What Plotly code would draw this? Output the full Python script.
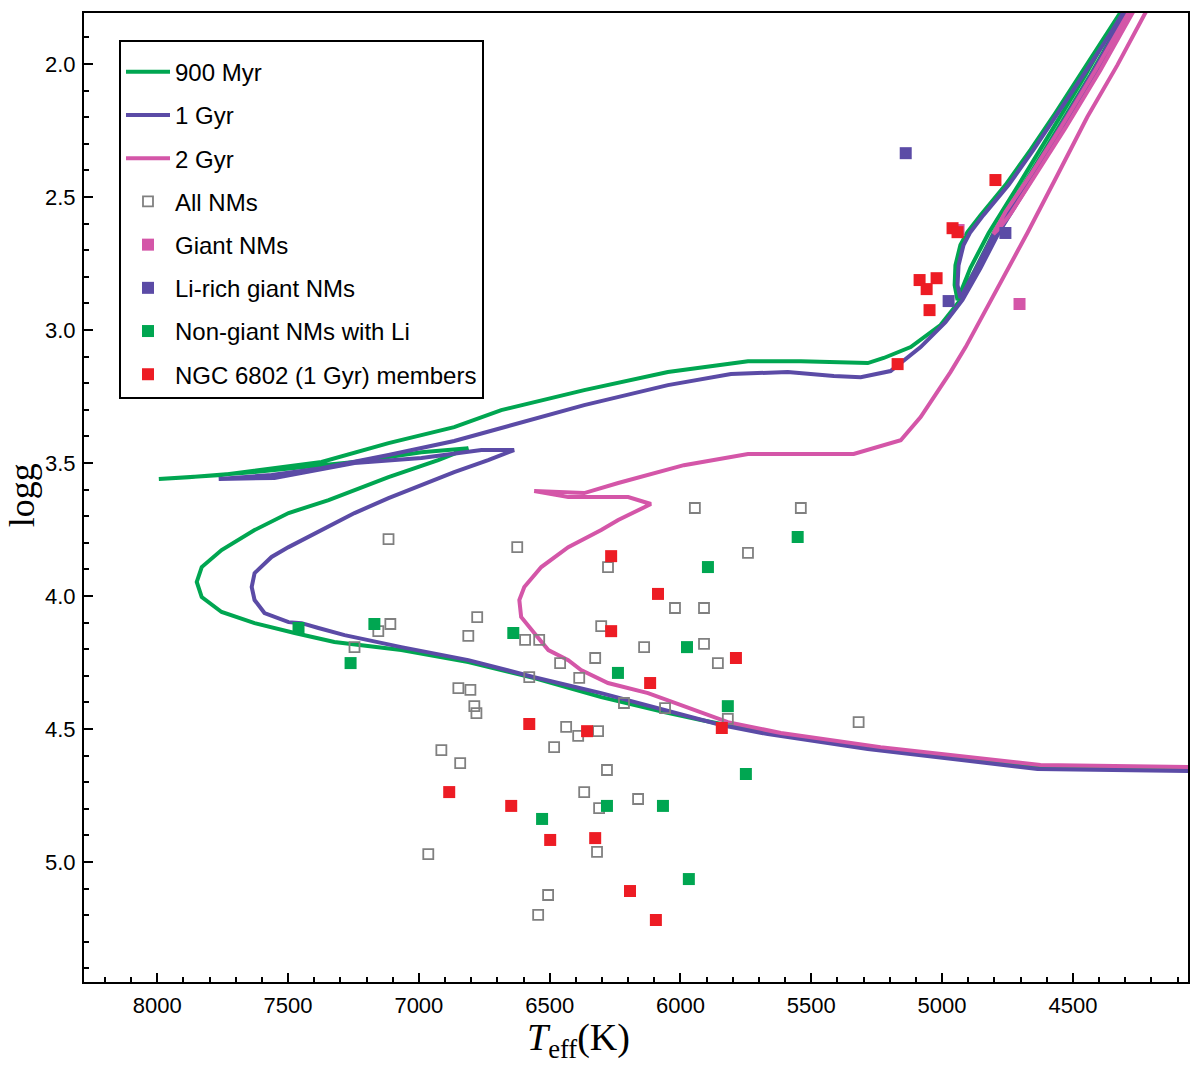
import plotly.graph_objects as go

# Isochrones (Teff in K, log g in dex)
iso_900myr_teff = [4059, 4635, 5284, 5666, 5922, 6063, 6303, 6559, 6811, 7067,
                   7323, 7448, 7475, 7628, 7754, 7830, 7849, 7830, 7754, 7628,
                   7498, 7345, 7246, 7116, 6926, 6811, 6990, 7246, 7372, 7628,
                   7880, 7994, 7754, 7372, 7116, 6865, 6685, 6368, 6048, 5742,
                   5540, 5284, 5223, 5120, 5006, 4937, 4872, 4803, 4689, 4559,
                   4433, 4319, 4262, 4204, 4281, 4338, 4452, 4578, 4708, 4822,
                   4892, 4941, 4952, 4949, 4930, 4903, 4853, 4758, 4662, 4567,
                   4472, 4376, 4307, 4262]
iso_900myr_logg = [4.654, 4.643, 4.568, 4.515, 4.466, 4.436, 4.380, 4.308, 4.248, 4.203,
                   4.173, 4.147, 4.139, 4.102, 4.060, 4.004, 3.947, 3.891, 3.827, 3.752,
                   3.688, 3.639, 3.602, 3.553, 3.489, 3.444, 3.459, 3.496, 3.508, 3.534,
                   3.553, 3.560, 3.545, 3.496, 3.425, 3.365, 3.301, 3.226, 3.158, 3.117,
                   3.117, 3.124, 3.105, 3.064, 2.981, 2.895, 2.767, 2.635, 2.455, 2.248,
                   2.041, 1.842, 1.748, 1.647, 1.748, 1.842, 2.041, 2.248, 2.455, 2.635,
                   2.767, 2.887, 2.831, 2.756, 2.680, 2.632, 2.568, 2.455, 2.323, 2.184,
                   2.041, 1.898, 1.789, 1.714]

iso_1gyr_teff = [4059, 4635, 5284, 5666, 5845, 6063, 6303, 6559, 6811, 7067,
                 7284, 7384, 7448, 7498, 7590, 7628, 7639, 7628, 7563, 7498,
                 7372, 7246, 7116, 6990, 6865, 6735, 6636, 6761, 6990, 7246,
                 7552, 7765, 7563, 7372, 7116, 6865, 6685, 6368, 6048, 5807,
                 5590, 5414, 5311, 5197, 5082, 4987, 4922, 4853, 4784, 4670,
                 4540, 4414, 4300, 4243, 4185, 4258, 4315, 4430, 4555, 4685,
                 4800, 4869, 4930, 4941, 4937, 4918, 4892, 4842, 4746, 4651,
                 4555, 4460, 4365, 4296, 4250]
iso_1gyr_logg = [4.658, 4.650, 4.575, 4.519, 4.485, 4.429, 4.365, 4.305, 4.241, 4.192,
                 4.147, 4.120, 4.102, 4.098, 4.064, 4.015, 3.966, 3.914, 3.853, 3.816,
                 3.752, 3.688, 3.632, 3.583, 3.534, 3.489, 3.451, 3.451, 3.481, 3.500,
                 3.556, 3.560, 3.545, 3.519, 3.470, 3.417, 3.368, 3.282, 3.207, 3.165,
                 3.158, 3.173, 3.177, 3.154, 3.064, 2.970, 2.887, 2.767, 2.635, 2.455,
                 2.248, 2.041, 1.842, 1.748, 1.647, 1.748, 1.842, 2.041, 2.248, 2.455,
                 2.635, 2.767, 2.880, 2.831, 2.756, 2.680, 2.632, 2.568, 2.455, 2.323,
                 2.184, 2.041, 1.898, 1.789, 1.714]

iso_2gyr_teff = [4059, 4624, 5235, 5616, 5819, 5971, 6124, 6277, 6380, 6429,
                 6505, 6559, 6609, 6616, 6597, 6532, 6429, 6303, 6238, 6113,
                 6200, 6429, 6559, 6368, 6238, 5987, 5742, 5338, 5158, 5082,
                 5025, 4968, 4910, 4853, 4796, 4739, 4674, 4559, 4445, 4330,
                 4231, 4166, 4243, 4288, 4414, 4548, 4662, 4758, 4792, 4804,
                 4781, 4739, 4643, 4529, 4395, 4269, 4223]
iso_2gyr_logg = [4.643, 4.635, 4.568, 4.515, 4.474, 4.421, 4.365, 4.327, 4.278, 4.241,
                 4.203, 4.139, 4.079, 4.015, 3.966, 3.891, 3.816, 3.752, 3.714, 3.654,
                 3.628, 3.628, 3.605, 3.613, 3.575, 3.508, 3.466, 3.466, 3.414, 3.327,
                 3.244, 3.158, 3.064, 2.962, 2.861, 2.756, 2.635, 2.417, 2.199, 2.004,
                 1.816, 1.703, 1.722, 1.808, 2.023, 2.241, 2.417, 2.556, 2.617, 2.639,
                 2.617, 2.564, 2.417, 2.241, 2.023, 1.808, 1.722]

# Stars
all_nm_teff = [7116, 6624, 5945, 5540, 5742, 6277, 6021, 5910, 6303, 6777,
               7109, 7155, 6811, 7246, 6594, 6540, 6139, 5910, 5857, 6460,
               6326, 6578, 6387, 6849, 6803, 6788, 6780, 6216, 6059, 5819,
               5319, 6437, 6391, 6315, 6914, 6842, 6483, 6281, 6368, 6311,
               6162, 6964, 6319, 6506, 6544]
all_nm_logg = [3.786, 3.816, 3.669, 3.669, 3.838, 3.891, 4.045, 4.045, 4.113, 4.079,
               4.105, 4.132, 4.150, 4.192, 4.165, 4.165, 4.192, 4.180, 4.252, 4.252,
               4.233, 4.305, 4.308, 4.346, 4.353, 4.414, 4.440, 4.402, 4.421, 4.462,
               4.474, 4.492, 4.526, 4.508, 4.579, 4.628, 4.568, 4.654, 4.737, 4.797,
               4.763, 4.970, 4.962, 5.124, 5.199]

giant_nm_teff = [4937, 4704]
giant_nm_logg = [2.624, 2.902]

li_giant_teff = [5139, 4975, 4758]
li_giant_logg = [2.335, 2.891, 2.635]

li_dwarf_teff = [7460, 7170, 7261, 6639, 5895, 5552, 5975, 6239, 5819, 6529,
                 6281, 6067, 5968, 5750]
li_dwarf_logg = [4.120, 4.105, 4.252, 4.139, 3.891, 3.778, 4.192, 4.289, 4.414, 4.838,
                 4.789, 4.789, 5.064, 4.669]

ngc6802_teff = [6265, 6086, 6265, 6116, 5788, 5842, 6578, 6357, 6884, 6647,
                6498, 6326, 6193, 6094, 5170, 4796, 4960, 4941, 5086, 5021,
                5059, 5048]
ngc6802_logg = [3.850, 3.992, 4.132, 4.327, 4.233, 4.496, 4.481, 4.508, 4.737, 4.789,
                4.917, 4.910, 5.109, 5.218, 3.128, 2.436, 2.617, 2.632, 2.812, 2.805,
                2.846, 2.925]

GREEN = "#00a651"
PURPLE = "#5b4ba6"
PINK = "#d456a8"
RED = "#ed1c24"
GRAY = "#808080"


def make_figure():
    fig = go.Figure()

    # isochrone lines
    lines = [
        ("900 Myr", iso_900myr_teff, iso_900myr_logg, GREEN),
        ("1 Gyr", iso_1gyr_teff, iso_1gyr_logg, PURPLE),
        ("2 Gyr", iso_2gyr_teff, iso_2gyr_logg, PINK),
    ]
    for name, x, y, color in lines:
        fig.add_trace(go.Scatter(x=x, y=y, mode="lines", name=name, legendgroup=name,
                                 line=dict(color=color, width=4)))

    # star samples
    points = [
        ("All NMs", all_nm_teff, all_nm_logg, "square-open", GRAY),
        ("Giant NMs", giant_nm_teff, giant_nm_logg, "square", PINK),
        ("Li-rich giant NMs", li_giant_teff, li_giant_logg, "square", PURPLE),
        ("Non-giant NMs with Li", li_dwarf_teff, li_dwarf_logg, "square", GREEN),
        ("NGC 6802 (1 Gyr) members", ngc6802_teff, ngc6802_logg, "square", RED),
    ]
    for name, x, y, symbol, color in points:
        is_open = symbol == "square-open"
        fig.add_trace(go.Scatter(x=x, y=y, mode="markers", name=name, legendgroup=name,
                                 marker=dict(symbol=symbol, size=10 if is_open else 12, color=color,
                                             line=dict(color=color, width=1.8 if is_open else 0))))

    axis_common = dict(
        showline=True, linecolor="black", linewidth=2, mirror=True,
        showgrid=False, zeroline=False, automargin=False,
        ticks="inside", ticklen=9, tickwidth=2, tickcolor="black",
        tickfont=dict(family="Liberation Sans", size=22, color="black"),
    )

    fig.update_xaxes(
        range=[8280, 4060], tick0=0, dtick=500,
        minor=dict(ticks="inside", ticklen=5, tickwidth=1.5, tickcolor="black", dtick=100, tick0=0),
        ticklabelstandoff=3,
        **axis_common,
    )
    fig.update_yaxes(
        range=[5.451, 1.808], tick0=0, dtick=0.5, tickformat=".1f",
        minor=dict(ticks="inside", ticklen=5, tickwidth=1.5, tickcolor="black", dtick=0.1, tick0=0),
        ticklabelstandoff=2,
        **axis_common,
    )

    # axis titles placed as annotations (the x title sits left of centre in the original)
    fig.add_annotation(text="<i>T</i><sub>eff</sub>(K)", xref="paper", yref="paper",
                       x=0.4475, y=0, yshift=-58, xanchor="center", yanchor="middle",
                       showarrow=False,
                       font=dict(family="Liberation Serif", size=38, color="black"))
    fig.add_annotation(text="logg", xref="paper", yref="paper",
                       x=-0.0565, y=0.502, xanchor="center", yanchor="middle",
                       textangle=-90, showarrow=False,
                       font=dict(family="Liberation Serif", size=36, color="black"))

    # the page adds an 8px body margin, so the figure is a bit smaller than the window
    fig.update_layout(
        width=1192, height=1059,
        margin=dict(l=76, r=12, t=5, b=85),
        plot_bgcolor="white", paper_bgcolor="white",
        showlegend=True,
        legend=dict(
            x=0.0317, y=0.9722, xanchor="left", yanchor="top",
            bgcolor="white", bordercolor="black", borderwidth=2,
            font=dict(family="Liberation Sans", size=24, color="black"),
            title=dict(text=" ", font=dict(size=6)),
            tracegroupgap=9, itemwidth=44,
        ),
    )
    return fig


def main():
    fig = make_figure()
    fig.write_html("out.html")


if __name__ == "__main__":
    main()
